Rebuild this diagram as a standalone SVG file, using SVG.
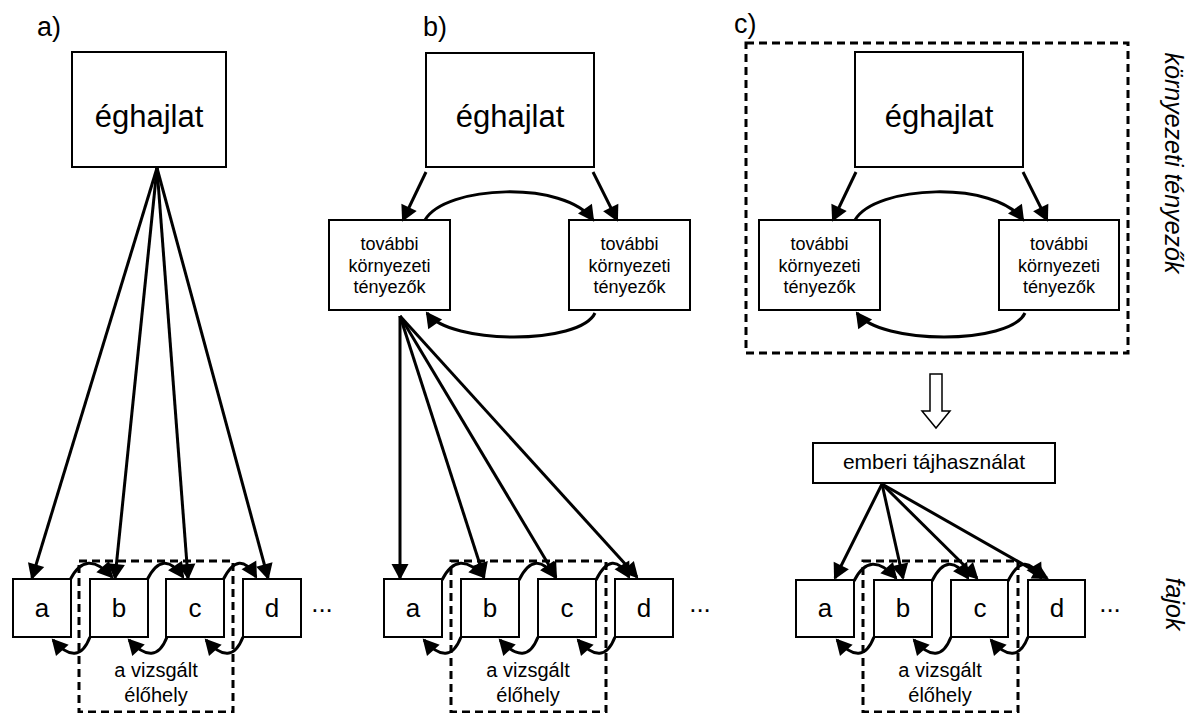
<svg xmlns="http://www.w3.org/2000/svg" width="1189" height="713" viewBox="0 0 1189 713">
<style>
.box{fill:#fff;stroke:#000;stroke-width:2}
.dash{fill:none;stroke:#000;stroke-width:3;stroke-dasharray:8,5}
.c{fill:none;stroke:#000;stroke-width:3;marker-end:url(#ah)}
text{font-family:"Liberation Sans",Arial,sans-serif;fill:#000}
.big{font-size:31px;text-anchor:middle}
.mid{font-size:18px;text-anchor:middle}
.sp{font-size:26px;text-anchor:middle}
.hab{font-size:20px;text-anchor:middle}
.lab{font-size:27px}
.side{font-size:25px;font-style:italic;text-anchor:middle}
</style>
<defs>
<marker id="ah" markerWidth="17" markerHeight="18" refX="14" refY="8.5" markerUnits="userSpaceOnUse" orient="auto" overflow="visible">
<path d="M0,0 L16,8.5 L0,17 z" fill="#000" stroke="none"/>
</marker>
</defs>
<rect width="1189" height="713" fill="#fff"/>

<!-- labels -->
<text class="lab" x="37" y="36">a)</text>
<text class="lab" x="423" y="36">b)</text>
<text class="lab" x="734" y="33">c)</text>
<text class="side" x="1165" y="163" transform="rotate(90 1165 163)">környezeti tényezők</text>
<text class="side" x="1166" y="604" transform="rotate(90 1166 604)">fajok</text>

<!-- dashed frames -->
<rect class="dash" x="79" y="561" width="154" height="151"/>
<rect class="dash" x="451" y="561" width="155" height="151"/>
<rect class="dash" x="863" y="561" width="155" height="151"/>
<rect class="dash" x="746" y="43" width="382" height="310"/>
<text class="hab" x="156" y="677">a vizsgált</text>
<text class="hab" x="156" y="702">élőhely</text>
<text class="hab" x="528" y="677">a vizsgált</text>
<text class="hab" x="528" y="702">élőhely</text>
<text class="hab" x="940" y="677">a vizsgált</text>
<text class="hab" x="940" y="702">élőhely</text>

<!-- panel a nodes -->
<g id="a-eghajlat"><rect class="box" x="72" y="52" width="154" height="115"/><text class="big" x="149" y="127">éghajlat</text></g>
<g id="a-a"><rect class="box" x="13" y="579" width="58" height="58"/><text class="sp" x="42" y="617">a</text></g>
<g id="a-b"><rect class="box" x="90" y="579" width="58" height="58"/><text class="sp" x="119" y="617">b</text></g>
<g id="a-c"><rect class="box" x="166" y="579" width="58" height="58"/><text class="sp" x="195" y="617">c</text></g>
<g id="a-d"><rect class="box" x="243" y="579" width="58" height="58"/><text class="sp" x="272" y="617">d</text></g>
<text class="sp" x="322" y="612">...</text>

<!-- panel b nodes -->
<g id="b-eghajlat"><rect class="box" x="426" y="53" width="168" height="114"/><text class="big" x="510" y="127">éghajlat</text></g>
<g id="b-kt1"><rect class="box" x="329" y="220" width="121" height="90"/><text class="mid" x="389.5" y="250">további</text><text class="mid" x="389.5" y="272">környezeti</text><text class="mid" x="389.5" y="293">tényezők</text></g>
<g id="b-kt2"><rect class="box" x="569" y="220" width="121" height="90"/><text class="mid" x="629.5" y="250">további</text><text class="mid" x="629.5" y="272">környezeti</text><text class="mid" x="629.5" y="293">tényezők</text></g>
<g id="b-a"><rect class="box" x="384" y="579" width="58" height="58"/><text class="sp" x="413" y="617">a</text></g>
<g id="b-b"><rect class="box" x="461" y="579" width="58" height="58"/><text class="sp" x="490" y="617">b</text></g>
<g id="b-c"><rect class="box" x="538" y="579" width="58" height="58"/><text class="sp" x="567" y="617">c</text></g>
<g id="b-d"><rect class="box" x="615" y="579" width="58" height="58"/><text class="sp" x="644" y="617">d</text></g>
<text class="sp" x="700" y="612">...</text>

<!-- panel c nodes -->
<g id="c-eghajlat"><rect class="box" x="855" y="52" width="168" height="115"/><text class="big" x="939" y="127">éghajlat</text></g>
<g id="c-kt1"><rect class="box" x="759" y="220" width="121" height="90"/><text class="mid" x="819.5" y="250">további</text><text class="mid" x="819.5" y="272">környezeti</text><text class="mid" x="819.5" y="293">tényezők</text></g>
<g id="c-kt2"><rect class="box" x="999" y="220" width="120" height="90"/><text class="mid" x="1059" y="250">további</text><text class="mid" x="1059" y="272">környezeti</text><text class="mid" x="1059" y="293">tényezők</text></g>
<g id="c-ember"><rect class="box" x="813" y="443" width="242" height="40"/><text x="934" y="469" style="font-size:21px;text-anchor:middle">emberi tájhasználat</text></g>
<g id="c-a"><rect class="box" x="796" y="580" width="58" height="57"/><text class="sp" x="825" y="617">a</text></g>
<g id="c-b"><rect class="box" x="874" y="580" width="58" height="57"/><text class="sp" x="903" y="617">b</text></g>
<g id="c-c"><rect class="box" x="951" y="580" width="57" height="57"/><text class="sp" x="980" y="617">c</text></g>
<g id="c-d"><rect class="box" x="1028" y="580" width="57" height="57"/><text class="sp" x="1057" y="617">d</text></g>
<text class="sp" x="1110" y="612">...</text>

<g id="hollow-arrow"><path d="M930,374 L942,374 L942,411 L950,411 L936,428 L922,411 L930,411 Z" fill="#fff" stroke="#000" stroke-width="1.5"/></g>

<!-- connectors -->
<g id="connectors">
<!-- panel a -->
<path class="c" d="M157,168 L32,578"/>
<path class="c" d="M157,168 L115,578"/>
<path class="c" d="M157,168 L188,578"/>
<path class="c" d="M157,168 L268,578"/>
<path class="c" d="M70,580 Q86,548 112,577"/>
<path class="c" d="M147,580 Q163,548 183,577"/>
<path class="c" d="M223,580 Q239,548 256,577"/>
<path class="c" d="M90,637 Q78,668 53,640"/>
<path class="c" d="M167,637 Q155,668 129,640"/>
<path class="c" d="M243,637 Q231,668 206,640"/>
<!-- panel b -->
<path class="c" d="M426,172 L403,220"/>
<path class="c" d="M593,172 L617,220"/>
<path class="c" d="M425,220 C445,185 565,180 593,220"/>
<path class="c" d="M595,313 C580,345 450,345 427,313"/>
<path class="c" d="M400,316 L400,578"/>
<path class="c" d="M400,316 L484,577"/>
<path class="c" d="M400,316 L556,577"/>
<path class="c" d="M400,316 L637,577"/>
<path class="c" d="M442,580 Q458,548 484,577"/>
<path class="c" d="M519,580 Q535,548 555,577"/>
<path class="c" d="M596,580 Q612,548 629,577"/>
<path class="c" d="M461,637 Q449,668 424,640"/>
<path class="c" d="M538,637 Q526,668 500,640"/>
<path class="c" d="M615,637 Q603,668 578,640"/>
<!-- panel c -->
<path class="c" d="M856,172 L833,220"/>
<path class="c" d="M1023,172 L1047,220"/>
<path class="c" d="M855,220 C875,185 995,180 1023,220"/>
<path class="c" d="M1025,313 C1010,345 880,345 857,313"/>
<path class="c" d="M882,484 L835,578"/>
<path class="c" d="M882,484 L903,578"/>
<path class="c" d="M882,484 L977,578"/>
<path class="c" d="M882,484 L1047,578"/>
<path class="c" d="M854,581 Q870,549 896,578"/>
<path class="c" d="M932,581 Q948,549 968,578"/>
<path class="c" d="M1008,581 Q1024,549 1041,578"/>
<path class="c" d="M874,637 Q862,668 837,640"/>
<path class="c" d="M951,637 Q939,668 914,640"/>
<path class="c" d="M1028,637 Q1016,668 991,640"/>
</g>
</svg>
